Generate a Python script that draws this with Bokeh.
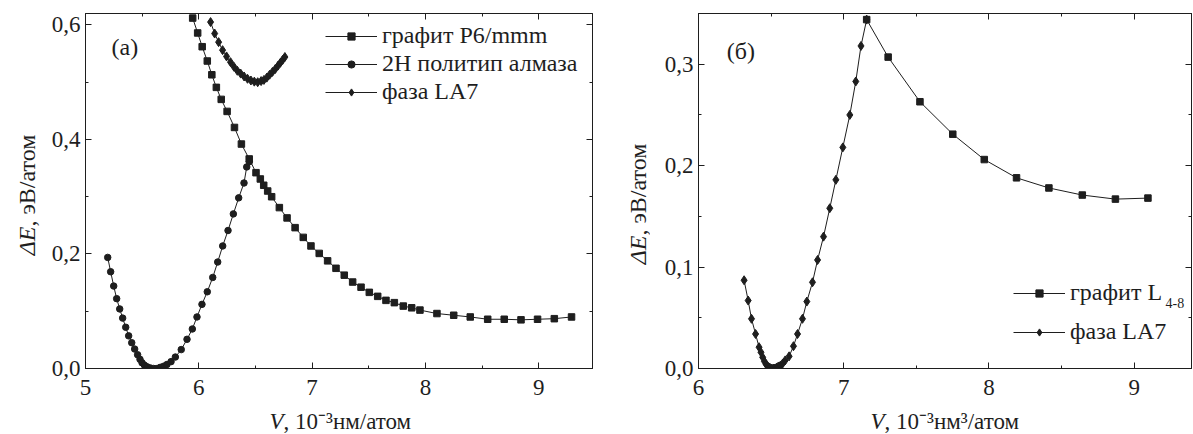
from bokeh.plotting import figure
from bokeh.layouts import row, column
from bokeh.models import (Legend, LegendItem, Label, LinearAxis, FixedTicker,
                          CustomJSTickFormatter)
from bokeh.embed import file_html
from bokeh.resources import INLINE

# ---------------- data: panel (a) ----------------
graphite_a_v = [5.946, 5.990, 6.030, 6.075, 6.115, 6.155, 6.198, 6.250, 6.315, 6.376,
                6.445, 6.505, 6.543, 6.573, 6.608, 6.643, 6.711, 6.779, 6.850, 6.922,
                6.990, 7.063, 7.137, 7.211, 7.284, 7.358, 7.432, 7.505, 7.579, 7.652,
                7.726, 7.805, 7.879, 7.952, 8.102, 8.250, 8.396, 8.550, 8.696, 8.844,
                8.990, 9.138, 9.290]
graphite_a_e = [0.612, 0.586, 0.562, 0.537, 0.513, 0.491, 0.470, 0.449, 0.421, 0.392,
                0.366, 0.342, 0.331, 0.320, 0.310, 0.300, 0.281, 0.263, 0.246, 0.229,
                0.214, 0.201, 0.188, 0.175, 0.163, 0.151, 0.142, 0.133, 0.126, 0.119,
                0.115, 0.109, 0.106, 0.102, 0.096, 0.093, 0.090, 0.086, 0.086, 0.085,
                0.086, 0.087, 0.090]

diamond2h_v = [5.196, 5.222, 5.249, 5.275, 5.302, 5.328, 5.355, 5.381, 5.408, 5.434,
               5.460, 5.481, 5.499, 5.519, 5.543, 5.572, 5.602, 5.631, 5.660, 5.690,
               5.719, 5.755, 5.793, 5.845, 5.896, 5.943, 5.984, 6.028, 6.075, 6.123,
               6.167, 6.211, 6.258, 6.305, 6.352, 6.399, 6.423, 6.446]
diamond2h_e = [0.194, 0.169, 0.144, 0.122, 0.104, 0.088, 0.072, 0.057, 0.045, 0.034,
               0.024, 0.016, 0.010, 0.006, 0.003, 0.001, 0.000, 0.000, 0.002, 0.004,
               0.007, 0.012, 0.020, 0.033, 0.051, 0.069, 0.090, 0.112, 0.134, 0.159,
               0.186, 0.214, 0.241, 0.270, 0.298, 0.324, 0.352, 0.361]

la7_a_v = [6.104, 6.140, 6.175, 6.210, 6.245, 6.280, 6.310, 6.340, 6.370, 6.400,
           6.430, 6.460, 6.490, 6.520, 6.550, 6.575, 6.600, 6.625, 6.650, 6.675,
           6.700, 6.720, 6.740, 6.760]
la7_a_e = [0.605, 0.585, 0.570, 0.556, 0.545, 0.535, 0.527, 0.520, 0.515, 0.510,
           0.506, 0.503, 0.501, 0.500, 0.502, 0.504, 0.508, 0.513, 0.518, 0.523,
           0.529, 0.534, 0.539, 0.544]

# ---------------- data: panel (б) ----------------
graphite_b_v = [7.158, 7.306, 7.525, 7.751, 7.968, 8.190, 8.413, 8.643, 8.871, 9.095]
graphite_b_e = [0.344, 0.307, 0.263, 0.231, 0.206, 0.188, 0.178, 0.171, 0.167, 0.168]

la7_b_v = [6.314, 6.342, 6.365, 6.393, 6.417, 6.430, 6.442, 6.454, 6.466, 6.478,
           6.490, 6.502, 6.514, 6.526, 6.538, 6.550, 6.565, 6.580, 6.597, 6.624,
           6.654, 6.682, 6.716, 6.746, 6.785, 6.820, 6.861, 6.904, 6.946, 6.994,
           7.042, 7.083, 7.119, 7.158]
la7_b_e = [0.087, 0.067, 0.049, 0.034, 0.021, 0.016, 0.011, 0.007, 0.004, 0.002,
           0.001, 0.000, 0.000, 0.000, 0.001, 0.002, 0.003, 0.005, 0.008, 0.012,
           0.022, 0.034, 0.049, 0.066, 0.085, 0.107, 0.130, 0.158, 0.186, 0.218,
           0.250, 0.283, 0.318, 0.344]

x_ticks_a = [5, 6, 7, 8, 9]
x_minor_a = [5.5, 6.5, 7.5, 8.5, 9.5]
y_ticks_a = [0.0, 0.2, 0.4, 0.6]
y_minor_a = [0.1, 0.3, 0.5]
x_ticks_b = [6, 7, 8, 9]
x_minor_b = [6.5, 7.5, 8.5]
y_ticks_b = [0.0, 0.1, 0.2, 0.3]
y_minor_b = [0.05, 0.15, 0.25, 0.35]

FONT = "Liberation Serif"
INK = "#1e1e1e"
ROT = 1.5707963
comma_fmt = CustomJSTickFormatter(code="return tick.toFixed(1).replace('.', ',');")
int_fmt = CustomJSTickFormatter(code="return tick.toFixed(0);")

MAIN_H = 400     # plot figure height; label strip below fills the rest
STRIP_H = 34


def style_axis(ax, show_labels, fmt=None):
    ax.axis_line_color = INK
    ax.axis_line_width = 1
    ax.major_tick_line_color = INK
    ax.minor_tick_line_color = INK
    ax.major_tick_in = 6
    ax.major_tick_out = 0
    ax.minor_tick_in = 3
    ax.minor_tick_out = 0
    ax.major_label_text_font = FONT
    ax.major_label_text_color = INK
    if show_labels:
        ax.major_label_text_font_size = "23px"
        if fmt is not None:
            ax.formatter = fmt
    else:
        ax.major_label_text_font_size = "0px"
        ax.major_label_standoff = 0
        ax.formatter = CustomJSTickFormatter(code="return '';")


def make_fig(width, xr, yr, xt, xm, yt, ym, bl, br):
    p = figure(width=width, height=MAIN_H, x_range=xr, y_range=yr,
               output_backend="svg", toolbar_location=None,
               min_border_left=bl, min_border_right=br,
               min_border_top=13, min_border_bottom=MAIN_H - 368)
    p.grid.visible = False
    p.outline_line_color = INK
    p.background_fill_color = "white"
    p.border_fill_color = "white"
    xtick = FixedTicker(ticks=xt, minor_ticks=xm)
    ytick = FixedTicker(ticks=yt, minor_ticks=ym)
    p.xaxis.ticker = xtick
    p.yaxis.ticker = ytick
    style_axis(p.xaxis[0], True, int_fmt)
    style_axis(p.yaxis[0], True, comma_fmt)
    p.xaxis[0].major_label_standoff = 11
    p.yaxis[0].major_label_standoff = 5
    top = LinearAxis(ticker=xtick)
    right = LinearAxis(ticker=ytick)
    style_axis(top, False)
    style_axis(right, False)
    p.add_layout(top, "above")
    p.add_layout(right, "right")
    return p


def strip(width, height):
    s = figure(width=width, height=height, x_range=(0, 1), y_range=(0, 1),
               x_axis_type=None, y_axis_type=None, output_backend="svg",
               toolbar_location=None, min_border=0)
    s.grid.visible = False
    s.outline_line_color = None
    s.background_fill_color = "white"
    s.border_fill_color = "white"
    return s


def series(p, xs, ys, marker, size):
    ln = p.line(xs, ys, line_color=INK, line_width=1)
    sc = p.scatter(xs, ys, marker=marker, size=size, fill_color=INK, line_color=INK)
    return [ln, sc]


def text(p, x, y, s, size, style="normal", angle=0, align="left", baseline="alphabetic",
         units="screen"):
    p.add_layout(Label(x=x, y=y, x_units=units, y_units=units, text=s,
                       text_font=FONT, text_font_size=size, text_font_style=style,
                       text_color=INK, angle=angle, text_align=align,
                       text_baseline=baseline))


# ---------------- panel (a) ----------------
p1 = make_fig(560, (5, 9.475), (0, 0.62), x_ticks_a, x_minor_a, y_ticks_a, y_minor_a, 45, 8)
r_g = series(p1, graphite_a_v, graphite_a_e, "square", 6.5)
r_d = series(p1, diamond2h_v, diamond2h_e, "circle", 6.5)
r_l = series(p1, la7_a_v, la7_a_e, "diamond", 9)

leg1 = Legend(items=[LegendItem(label="графит P6/mmm", renderers=r_g),
                     LegendItem(label="2H политип алмаза", renderers=r_d),
                     LegendItem(label="фаза LA7", renderers=r_l)],
              location=(240, 263), padding=0, margin=0, spacing=1,
              border_line_color=None, background_fill_alpha=0,
              glyph_width=52, glyph_height=18, label_standoff=5,
              label_text_font=FONT, label_text_font_size="24px",
              label_text_color=INK)
p1.add_layout(leg1)
text(p1, 5.23, 0.562, "(а)", "24px", baseline="middle", units="data")

yl1 = strip(40, MAIN_H)
text(yl1, 26, 142, "ΔE", "24px", style="italic", angle=ROT, align="right",
     baseline="middle")
text(yl1, 26, 142, ", эВ/атом", "24px", angle=ROT, align="left", baseline="middle")

xl1 = strip(600, STRIP_H)
text(xl1, 283, 13, "V", "23px", style="italic", align="right")
text(xl1, 283, 13, ", 10⁻³нм/атом", "23px")

# ---------------- panel (б) ----------------
p2 = make_fig(543, (6, 9.395), (0, 0.35), x_ticks_b, x_minor_b, y_ticks_b, y_minor_b, 48, 2)
r_g2 = series(p2, graphite_b_v, graphite_b_e, "square", 6.5)
r_l2 = series(p2, la7_b_v, la7_b_e, "diamond", 9)

leg2 = Legend(items=[LegendItem(label="графит L", renderers=r_g2),
                     LegendItem(label="фаза LA7", renderers=r_l2)],
              location=(315, 23), padding=0, margin=0, spacing=12,
              border_line_color=None, background_fill_alpha=0,
              glyph_width=52, glyph_height=18, label_standoff=5,
              label_text_font=FONT, label_text_font_size="24px",
              label_text_color=INK)
p2.add_layout(leg2)
text(p2, 467, 66, "4-8", "14px")
text(p2, 6.195, 0.3126, "(б)", "24px", baseline="middle", units="data")

yl2 = strip(50, MAIN_H)
text(yl2, 37, 133, "ΔE", "24px", style="italic", angle=ROT, align="right",
     baseline="middle")
text(yl2, 37, 133, ", эВ/атом", "24px", angle=ROT, align="left", baseline="middle")

xl2 = strip(593, STRIP_H)
text(xl2, 284, 13, "V", "23px", style="italic", align="right")
text(xl2, 284, 13, ", 10⁻³нм³/атом", "23px")

layout = row(column(row(yl1, p1), xl1), column(row(yl2, p2), xl2))
open("out.html", "w").write(file_html(layout, INLINE))
